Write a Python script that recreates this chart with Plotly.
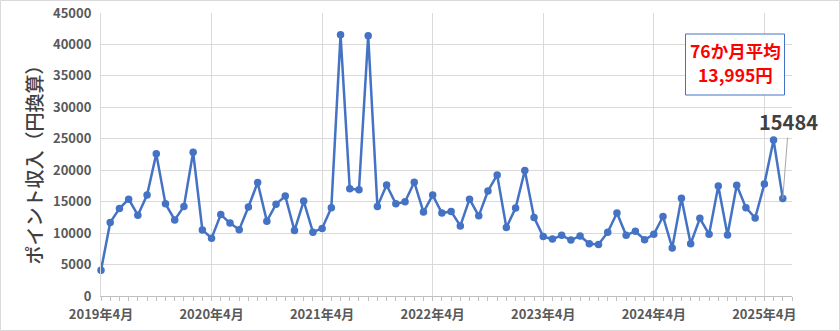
import plotly.graph_objects as go

# ---- data ----
months = [f"{y}年{m}月" for y in range(2019, 2026) for m in list(range(1, 13))]
months = months[3:3 + 76]  # 2019年4月 .. 2025年7月

values = [4100, 11700, 13900, 15400, 12850, 16050, 22600, 14650, 12100, 14250,
          22850, 10500, 9200, 12950, 11600, 10550, 14150, 18050, 11900, 14600,
          15900, 10400, 15100, 10150, 10750, 14050, 41550, 17050, 16900, 41400,
          14250, 17650, 14650, 15000, 18100, 13350, 16050, 13200, 13450, 11150,
          15400, 12750, 16700, 19250, 10900, 14000, 19950, 12500, 9450, 9050,
          9650, 8900, 9550, 8300, 8200, 10150, 13200, 9650, 10300, 8950,
          9800, 12650, 7650, 15550, 8300, 12350, 9800, 17500, 9700, 17600,
          14050, 12400, 17800, 24800, 15484, None]

label_months = months[::12]
y_ticks = list(range(0, 45001, 5000))
y_title = "ポイント収入（円換算）"
avg_lines = ["76か月平均", "13,995円"]
last_label = "15484"

# ---- layout constants ----
W, H = 840, 331
ML, MR, MT, MB = 101, 48, 13, 35
PW = W - ML - MR
PH = H - MT - MB

def px_x(X):
    return (X - ML) / PW

def px_y(Y):
    return (H - MB - Y) / PH

FONT = "Noto Sans CJK JP"
xs = list(range(len(months)))

fig = go.Figure()
fig.add_trace(go.Scatter(
    x=xs, y=values, mode="lines+markers",
    line=dict(color="#4472C4", width=2.5),
    marker=dict(color="#4472C4", size=7.5),
    connectgaps=False, hoverinfo="skip", cliponaxis=False,
))

last_idx = max(i for i, v in enumerate(values) if v is not None)

fig.update_layout(
    width=W, height=H,
    margin=dict(l=ML, r=MR, t=MT, b=MB, autoexpand=False),
    paper_bgcolor="white", plot_bgcolor="white",
    showlegend=False,
    font=dict(family=FONT, color="#595959"),
    xaxis=dict(
        range=[0, len(months) - 1],
        automargin=False,
        tickmode="array",
        tickvals=xs[::12], ticktext=label_months,
        ticks="outside", ticklen=4, tickcolor="#BFBFBF",
        showgrid=True, gridcolor="#D9D9D9", gridwidth=1,
        showline=True, linecolor="#BFBFBF", linewidth=1,
        zeroline=False,
        ticklabelstandoff=2,
        tickfont=dict(family=FONT, size=13, color="#595959", weight="bold"),
        minor=dict(dtick=1, tick0=0, ticks="outside", ticklen=4,
                   tickcolor="#BFBFBF", showgrid=False),
        fixedrange=True,
    ),
    yaxis=dict(
        range=[0, 45000],
        automargin=False,
        tickmode="array", tickvals=y_ticks,
        ticktext=[str(v) for v in y_ticks],
        showgrid=True, gridcolor="#D9D9D9", gridwidth=1,
        showline=True, linecolor="#D9D9D9", linewidth=1,
        zeroline=False, ticks="",
        ticklabelstandoff=6,
        tickfont=dict(family=FONT, size=13, color="#595959", weight="bold"),
        fixedrange=True,
    ),
)

# y axis title
fig.add_annotation(
    xref="paper", yref="paper", x=px_x(33), y=px_y(160.5),
    text=y_title, textangle=-90, showarrow=False,
    xanchor="center", yanchor="middle",
    font=dict(family=FONT, size=19, color="#404040", weight=500),
)

# average box (border drawn as a rectangle, lines as separate texts)
fig.add_shape(
    type="rect", xref="paper", yref="paper",
    x0=px_x(685.5), x1=px_x(784.5), y0=px_y(95), y1=px_y(34),
    line=dict(color="#4472C4", width=1), fillcolor="white", layer="above",
)
for txt, yc in zip(avg_lines, [50.5, 74.5]):
    fig.add_annotation(
        xref="paper", yref="paper", x=px_x(735), y=px_y(yc),
        text=txt, showarrow=False,
        xanchor="center", yanchor="middle",
        font=dict(family=FONT, size=17.5, color="#FF0000", weight="bold"),
    )

# last value label
fig.add_annotation(
    x=last_idx, y=values[last_idx], xref="x", yref="y",
    text=last_label, showarrow=True, arrowhead=0, arrowwidth=1,
    arrowcolor="#A6A6A6", ax=6, ay=-77, standoff=0,
    font=dict(family=FONT, size=20, color="#404040", weight="bold"),
)

# outer chart border
fig.add_shape(
    type="rect", xref="paper", yref="paper",
    x0=px_x(0.5), x1=px_x(W - 0.5), y0=px_y(H - 0.5), y1=px_y(0.5),
    line=dict(color="#D9D9D9", width=1), fillcolor="rgba(0,0,0,0)",
    layer="below",
)

fig.write_html("out.html")
